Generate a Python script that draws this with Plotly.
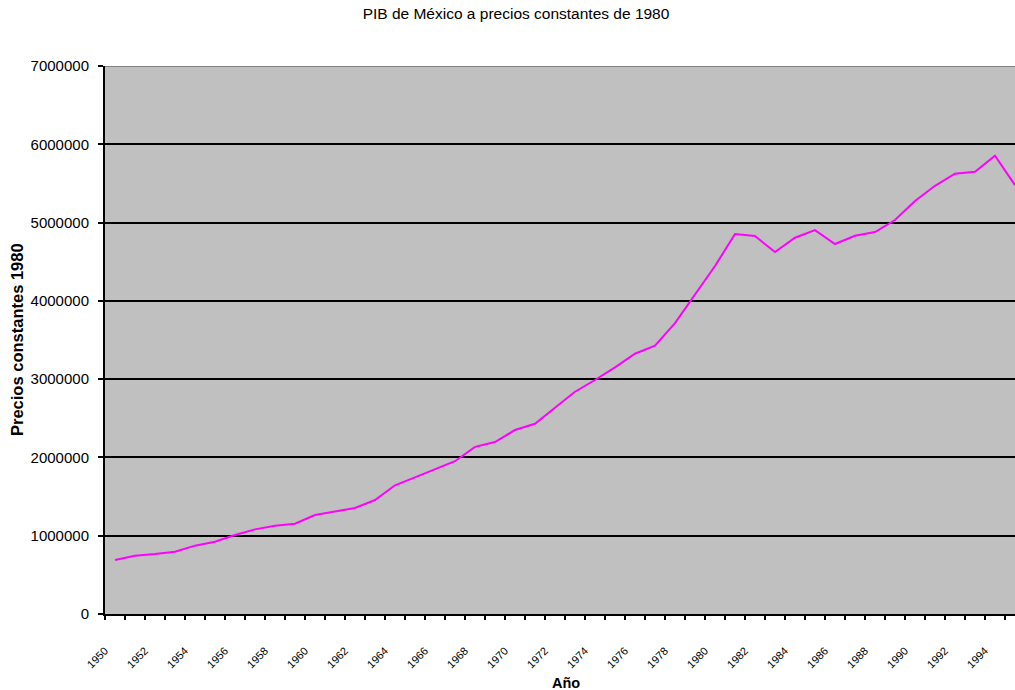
import plotly.graph_objects as go

years = list(range(1950, 1996))
pib = [690000, 745000, 766000, 796000, 873000, 924000, 1009000, 1081000, 1128000, 1153000,
       1264000, 1307000, 1354000, 1456000, 1644000, 1746000, 1848000, 1952000, 2135000, 2197000,
       2350000, 2430000, 2635000, 2839000, 2989000, 3150000, 3325000, 3427000, 3715000, 4080000,
       4445000, 4853000, 4828000, 4623000, 4806000, 4904000, 4726000, 4832000, 4879000, 5032000,
       5275000, 5470000, 5624000, 5649000, 5853000, 5479000]
y_ticks = [0, 1000000, 2000000, 3000000, 4000000, 5000000, 6000000, 7000000]
x_tick_labels = [str(y) if y % 2 == 0 else "" for y in years]

title_text = "PIB de México a precios constantes de 1980"
x_title = "Año"
y_title = "Precios constantes 1980"

FONT = "Liberation Sans, Arial, sans-serif"

fig = go.Figure()
fig.add_trace(go.Scatter(
    x=years, y=pib, mode="lines",
    line=dict(color="#FF00FF", width=2),
    hoverinfo="x+y", showlegend=False,
))

fig.update_layout(
    width=1015, height=690,
    margin=dict(l=105, r=0, t=66, b=76, pad=0),
    paper_bgcolor="white",
    plot_bgcolor="#C0C0C0",
    font=dict(family=FONT, color="black", size=15),
    title=dict(text=title_text, x=516 / 1015, xref="container", xanchor="center",
               y=1 - 14 / 690, yref="container", yanchor="middle",
               font=dict(family=FONT, size=15.5, color="black")),
)

fig.update_xaxes(
    range=[1949.5, 1995],
    tickmode="array",
    tickvals=[y - 0.5 for y in years],
    ticktext=x_tick_labels,
    tickangle=-45,
    tickfont=dict(size=11),
    ticks="outside", ticklen=4, tickwidth=1.5, tickcolor="black",
    ticklabelstandoff=20,
    showgrid=False, zeroline=False,
    showline=True, linecolor="black", linewidth=2,
)
fig.update_yaxes(
    range=[0, 7000000],
    tickmode="array",
    tickvals=y_ticks,
    ticktext=[str(v) for v in y_ticks],
    tickfont=dict(size=15),
    ticks="outside", ticklen=5, tickwidth=1.5, tickcolor="black",
    ticklabelstandoff=6,
    showgrid=True, gridcolor="black", gridwidth=1.5,
    zeroline=False,
    showline=True, linecolor="black", linewidth=2,
)

fig.add_shape(type="line", xref="paper", yref="y", x0=0, x1=1, y0=7000000, y1=7000000,
              line=dict(color="#808080", width=2))

fig.add_annotation(text="<b>" + y_title + "</b>", xref="paper", yref="paper",
                   x=(17 - 105) / 910, y=0.5, xanchor="center", yanchor="middle",
                   textangle=-90, showarrow=False, font=dict(size=16.5, family=FONT))
fig.add_annotation(text="<b>" + x_title + "</b>", xref="paper", yref="paper",
                   x=(566 - 105) / 910, y=(614 - 683) / 548, xanchor="center", yanchor="middle",
                   showarrow=False, font=dict(size=14.5, family=FONT))

fig.write_html(
    "out.html",
    config={"displayModeBar": False},
    post_script="document.body.style.margin='0';document.body.style.padding='0';"
                "document.body.style.overflow='hidden';"
                "document.documentElement.style.overflow='hidden';",
)
